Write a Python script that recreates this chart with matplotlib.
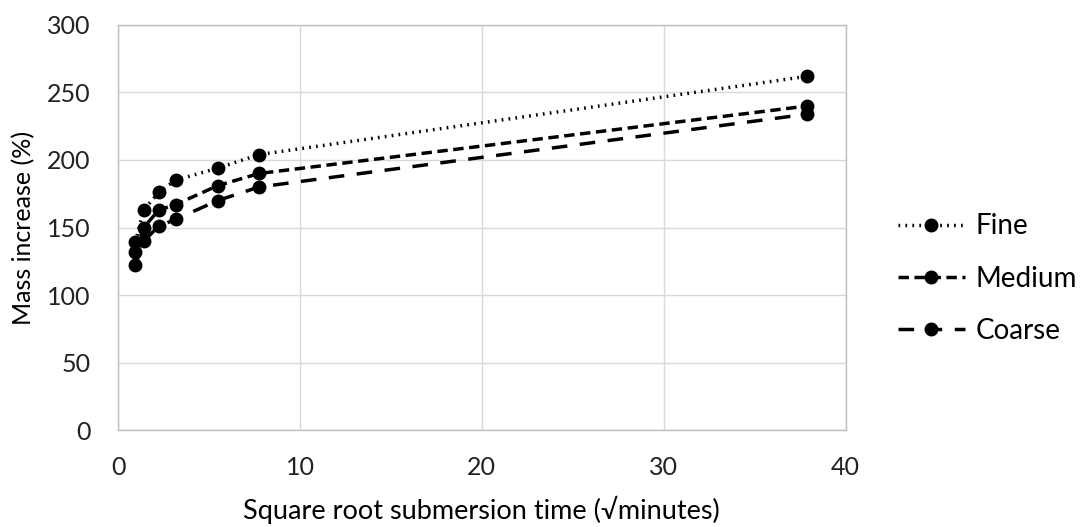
import matplotlib
matplotlib.use("Agg")
import matplotlib.pyplot as plt

plt.rcParams['font.family'] = ['Lato', 'DejaVu Sans']

# square root of submersion time (sqrt minutes)
time_sqrt = [0.95, 1.41, 2.24, 3.16, 5.48, 7.75, 37.9]
fine = [139, 163, 176, 185, 194, 204, 262]
medium = [132, 150, 163, 167, 181, 190, 240]
coarse = [122, 140, 151, 156, 170, 180, 234]

series = [
    ("Fine", fine, (0, (0.5, 1.5))),
    ("Medium", medium, (0, (3.0, 1.6))),
    ("Coarse", coarse, (0, (4.5, 3.6))),
]

fig = plt.figure(figsize=(10.87, 5.27), dpi=100)
ax = fig.add_axes([0.1086, 0.184, 0.6694, 0.7686])

for name, vals, ls in series:
    ax.plot(time_sqrt, vals, color="black", linestyle=ls, linewidth=2.5,
            marker="o", markersize=9, label=name)

ax.set_xlim(0, 40)
ax.set_ylim(0, 300)
ax.set_xticks([0, 10, 20, 30, 40])
ax.set_yticks(range(0, 301, 50))
ax.grid(True, color="#d9d9d9", linewidth=1)
ax.set_axisbelow(True)
for s in ax.spines.values():
    s.set_color("#bfbfbf")
    s.set_linewidth(1)
ax.tick_params(length=0, labelsize=18, colors="#222222")
ax.tick_params(axis="y", pad=20)
ax.tick_params(axis="x", pad=19)

ax.set_xlabel("Square root submersion time (√minutes)", fontsize=19.5, labelpad=12)
ax.set_ylabel("Mass increase (%)", fontsize=18, labelpad=8)

fig.legend(loc="center left", bbox_to_anchor=(0.826, 0.471), frameon=False,
           borderpad=0, borderaxespad=0,
           fontsize=20, handlelength=2.4, labelspacing=0.95, handletextpad=0.4)

fig.savefig("out.png", dpi=100)
